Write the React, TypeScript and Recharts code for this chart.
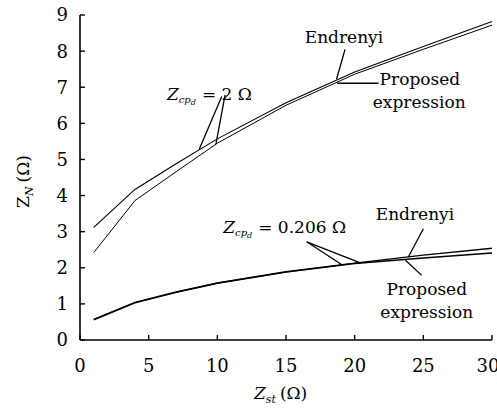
import { LineChart, Line, XAxis, YAxis, ReferenceLine, ReferenceDot } from "recharts"

const FONT = "DejaVu Serif"

// Z_st (ohm) sample points
const zst = [1, 4, 7, 10, 15, 20, 25, 30]
// Z_cpd = 2 ohm
const endrenyi2 = [3.12, 4.17, 4.88, 5.57, 6.57, 7.42, 8.13, 8.82]
const proposed2 = [2.42, 3.86, 4.66, 5.45, 6.5, 7.36, 8.05, 8.72]
// Z_cpd = 0.206 ohm
const endrenyi0206 = [0.57, 1.04, 1.33, 1.58, 1.89, 2.13, 2.35, 2.54]
const proposed0206 = [0.56, 1.03, 1.32, 1.57, 1.88, 2.12, 2.27, 2.41]

const xTicks = [0, 5, 10, 15, 20, 25, 30]
const yTicks = [0, 1, 2, 3, 4, 5, 6, 7, 8, 9]

// annotation leader lines, in data units
const pointers = [
  [10.32, 6.74, 8.69, 5.29],
  [10.56, 6.78, 9.9, 5.43],
  [19.3, 8.05, 18.68, 7.22],
  [18.71, 7.11, 21.74, 7.11],
  [16.51, 2.72, 19.04, 2.09],
  [16.51, 2.72, 20.46, 2.13],
  [25.0, 3.08, 23.91, 2.3],
  [23.7, 2.21, 24.88, 1.79]
]

// plain text notes (x, baseline y, text)
const notes: [number, number, string][] = [
  [19.22, 8.22, "Endrenyi"],
  [24.75, 7.06, "Proposed"],
  [24.7, 6.42, "expression"],
  [24.39, 3.32, "Endrenyi"],
  [25.25, 1.25, "Proposed"],
  [25.25, 0.61, "expression"]
]

// Z_cpd labels (left x, baseline y, value)
const zcpdNotes: [number, number, string][] = [
  [6.33, 6.65, "2"],
  [10.43, 2.96, "0.206"]
]

const rows = zst.map((z, i) => ({
  zst: z,
  e2: endrenyi2[i],
  p2: proposed2[i],
  e0: endrenyi0206[i],
  p0: proposed0206[i]
}))

const XTitle = (props: any) => {
  const vb = props.viewBox
  return (
    <text x={vb.x + vb.width / 2 - 32} y={vb.y + 59} fontFamily={FONT} fontSize={17} fill="#000">
      <tspan fontStyle="italic">Z</tspan>
      <tspan fontStyle="italic" fontSize={11} dy={4}>st</tspan>
      <tspan dy={-4} dx={4}>(Ω)</tspan>
    </text>
  )
}

const YTitle = (props: any) => {
  const vb = props.viewBox
  const cx = 29
  const cy = vb.y + vb.height / 2 + 4
  return (
    <text
      x={cx}
      y={cy}
      transform={`rotate(-90 ${cx} ${cy})`}
      textAnchor="middle"
      fontFamily={FONT}
      fontSize={17}
      fill="#000"
    >
      <tspan>Z</tspan>
      <tspan fontStyle="italic" fontSize={11} dy={4}>N</tspan>
      <tspan dy={-4} dx={4}>(Ω)</tspan>
    </text>
  )
}

const Zcpd = ({ x, y, value }: { x: number; y: number; value: string }) => (
  <text x={x} y={y} fontFamily={FONT} fontSize={17} fill="#000">
    <tspan fontStyle="italic">Z</tspan>
    <tspan fontStyle="italic" fontSize={10} dy={3}>cp</tspan>
    <tspan fontStyle="italic" fontSize={8} dy={2}>d</tspan>
    <tspan dy={-5} dx={6}>= {value} Ω</tspan>
  </text>
)

export default function App() {
  return (
    <div style={{ position: "absolute", left: 0, top: 0 }}>
      <LineChart
        width={497}
        height={410}
        data={rows}
        margin={{ top: 15, right: 5, bottom: 0, left: 0 }}
      >
        <XAxis
          xAxisId="b"
          dataKey="zst"
          type="number"
          domain={[0, 30]}
          ticks={xTicks}
          tickSize={-5}
          tickMargin={24}
          height={70}
          stroke="#000"
          axisLine={{ stroke: "#000", strokeWidth: 1.6 }}
          tickLine={{ stroke: "#000", strokeWidth: 1.4 }}
          tick={{ fill: "#000", fontSize: 18, fontFamily: FONT }}
          label={{ content: XTitle }}
        />
        <XAxis
          xAxisId="t"
          orientation="top"
          dataKey="zst"
          type="number"
          domain={[0, 30]}
          ticks={xTicks}
          tickSize={-5}
          height={0}
          stroke="#000"
          axisLine={{ stroke: "#000", strokeWidth: 1.6 }}
          tickLine={{ stroke: "#000", strokeWidth: 1.4 }}
          tickFormatter={() => ""}
        />
        <YAxis
          yAxisId="l"
          type="number"
          domain={[0, 9]}
          ticks={yTicks}
          tickSize={-5}
          tickMargin={17}
          width={80}
          stroke="#000"
          axisLine={{ stroke: "#000", strokeWidth: 1.6 }}
          tickLine={{ stroke: "#000", strokeWidth: 1.4 }}
          tick={{ fill: "#000", fontSize: 18, fontFamily: FONT }}
          label={{ content: YTitle }}
        />
        <YAxis
          yAxisId="r"
          orientation="right"
          type="number"
          domain={[0, 9]}
          ticks={yTicks}
          tickSize={-5}
          width={0}
          stroke="#000"
          axisLine={{ stroke: "#000", strokeWidth: 1.6 }}
          tickLine={{ stroke: "#000", strokeWidth: 1.4 }}
          tickFormatter={() => ""}
        />

        <Line xAxisId="b" yAxisId="l" type="linear" dataKey="e2" stroke="#000" strokeWidth={1.1} dot={false} isAnimationActive={false} />
        <Line xAxisId="b" yAxisId="l" type="linear" dataKey="p2" stroke="#000" strokeWidth={1} dot={false} isAnimationActive={false} />
        <Line xAxisId="b" yAxisId="l" type="linear" dataKey="e0" stroke="#000" strokeWidth={1.4} dot={false} isAnimationActive={false} />
        <Line xAxisId="b" yAxisId="l" type="linear" dataKey="p0" stroke="#000" strokeWidth={1.4} dot={false} isAnimationActive={false} />

        {pointers.map(([x1, y1, x2, y2], i) => (
          <ReferenceLine
            key={"p" + i}
            xAxisId="b"
            yAxisId="l"
            segment={[{ x: x1, y: y1 }, { x: x2, y: y2 }]}
            stroke="#000"
            strokeWidth={1.3}
          />
        ))}

        {notes.map(([x, y, t], i) => (
          <ReferenceDot
            key={"n" + i}
            xAxisId="b"
            yAxisId="l"
            x={x}
            y={y}
            r={0}
            shape={(p: any) => (
              <text x={p.cx} y={p.cy} textAnchor="middle" fontFamily={FONT} fontSize={17} fill="#000">
                {t}
              </text>
            )}
          />
        ))}

        {zcpdNotes.map(([x, y, v], i) => (
          <ReferenceDot
            key={"z" + i}
            xAxisId="b"
            yAxisId="l"
            x={x}
            y={y}
            r={0}
            shape={(p: any) => <Zcpd x={p.cx} y={p.cy} value={v} />}
          />
        ))}
      </LineChart>
    </div>
  )
}
